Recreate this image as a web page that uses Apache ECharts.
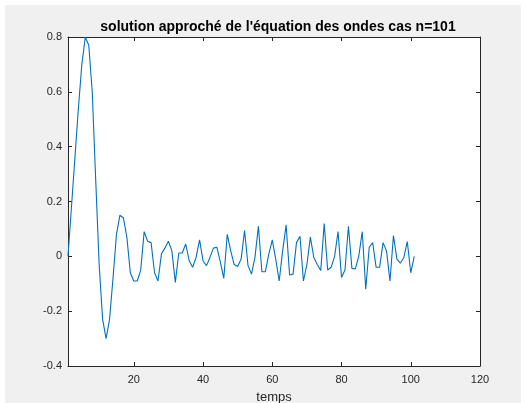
<!DOCTYPE html>
<html>
<head>
<meta charset="utf-8">
<script src="https://cdn.jsdelivr.net/npm/echarts@6/dist/echarts.min.js"></script>
<style>
html,body{margin:0;padding:0;background:#ffffff;}
#c{width:526px;height:403px;}
</style>
</head>
<body>
<div id="c"></div>
<script>
const titleText = "solution approché de l'équation des ondes cas n=101";
const xLabel = "temps";
const xTicks = [20, 40, 60, 80, 100, 120];
const yTicks = [-0.4, -0.2, 0, 0.2, 0.4, 0.6, 0.8];
const values = [
  0, 0.18, 0.36, 0.54, 0.70, 0.80, 0.77, 0.60, 0.28, -0.03,
  -0.23, -0.30, -0.23, -0.08, 0.08, 0.15, 0.14, 0.07, -0.06, -0.09,
  -0.09, -0.05, 0.09, 0.055, 0.05, -0.06, -0.09, 0.01, 0.03, 0.055,
  0.02, -0.095, 0.012, 0.012, 0.045, -0.016, -0.04, -0.004, 0.06, -0.016,
  -0.034, -0.004, 0.03, 0.033, -0.02, -0.08, 0.08, 0.02, -0.03, -0.037,
  -0.01, 0.094, -0.034, -0.065, -0.004, 0.11, -0.056, -0.056, 0.008, 0.06,
  -0.01, -0.09, 0.02, 0.115, -0.068, -0.065, 0.05, 0.073, -0.09, -0.03,
  0.07, -0.004, -0.03, -0.052, 0.12, -0.05, -0.04, 0, 0.09, -0.077,
  -0.05, 0.11, -0.044, -0.046, 0.002, 0.09, -0.12, 0.033, 0.05, -0.04,
  -0.04, 0.05, 0.02, -0.09, 0.076, -0.01, -0.025, -0.004, 0.054, -0.06,
  0
];
const times = values.map((v, i) => i + 1);

const axisColor = '#262626';
const font = 'Liberation Sans, Arial, Helvetica, sans-serif';
const chart = echarts.init(document.getElementById('c'), null, {renderer: 'canvas'});
const data = times.map((t, i) => [t, values[i]]);

const xBase = {
  type: 'value', min: 1, max: 120,
  axisLine: {show: true, onZero: false, lineStyle: {color: axisColor, width: 1}},
  axisTick: {show: true, inside: true, length: 4, customValues: xTicks, lineStyle: {color: axisColor}},
  splitLine: {show: false}
};
const yBase = {
  type: 'value', min: -0.4, max: 0.8, interval: 0.2,
  axisLine: {show: true, onZero: false, lineStyle: {color: axisColor, width: 1}},
  axisTick: {show: true, inside: true, length: 4, lineStyle: {color: axisColor}},
  splitLine: {show: false}
};

chart.setOption({
  animation: false,
  backgroundColor: '#ffffff',
  graphic: [
    {type: 'rect', z: -10, shape: {x: 5, y: 5, width: 516, height: 398}, style: {fill: '#f0f0f0'}},
    {type: 'rect', z: -9, shape: {x: 68, y: 37, width: 412, height: 329}, style: {fill: '#ffffff'}}
  ],
  title: {
    text: titleText, left: 273, top: 15, textAlign: 'center',
    textStyle: {fontFamily: font, fontSize: 14, fontWeight: 'bold', color: '#000000'}
  },
  grid: {left: 68, right: 46, top: 37, bottom: 37, containLabel: false, outerBoundsMode: 'none'},
  xAxis: [
    Object.assign({}, xBase, {
      position: 'bottom',
      name: xLabel, nameLocation: 'middle', nameGap: 25,
      nameTextStyle: {fontFamily: font, fontSize: 13, color: axisColor},
      axisLabel: {show: true, customValues: xTicks, margin: 8, fontFamily: font, fontSize: 11, color: axisColor}
    }),
    Object.assign({}, xBase, {position: 'top', axisLabel: {show: false}})
  ],
  yAxis: [
    Object.assign({}, yBase, {
      position: 'left',
      axisLabel: {show: true, margin: 6, fontFamily: font, fontSize: 11, color: axisColor,
        formatter: v => String(Math.round(v * 10) / 10)}
    }),
    Object.assign({}, yBase, {position: 'right', axisLabel: {show: false}})
  ],
  series: [{
    type: 'line', xAxisIndex: 0, yAxisIndex: 0, data: data,
    showSymbol: false, symbol: 'none',
    lineStyle: {color: '#0072BD', width: 1.1},
    clip: true
  }]
});
</script>
</body>
</html>
